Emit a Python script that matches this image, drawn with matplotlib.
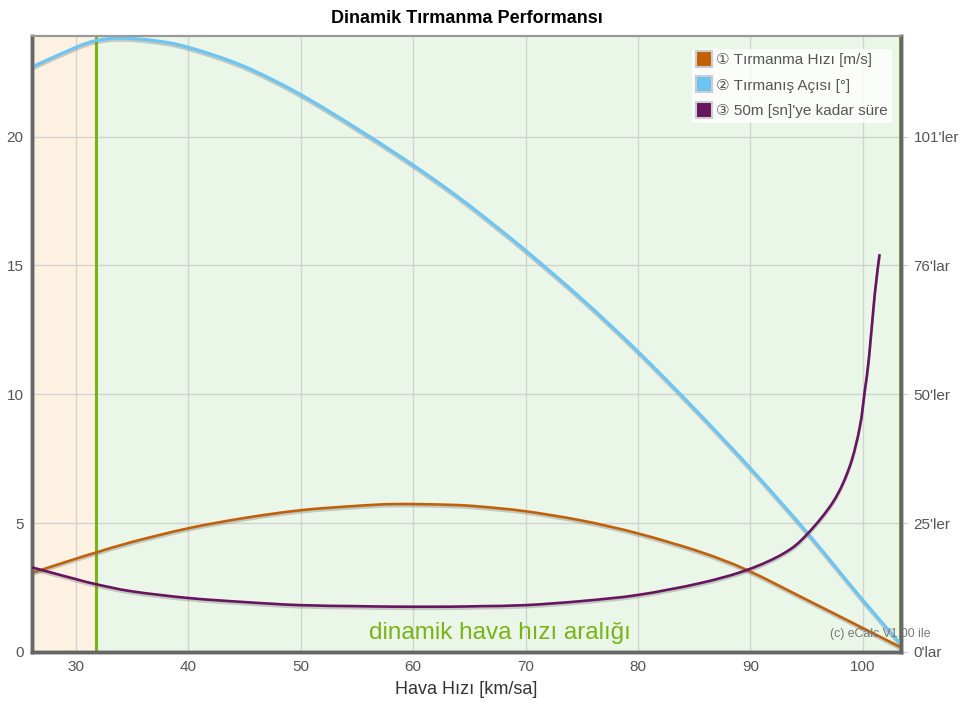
import matplotlib.pyplot as plt
import matplotlib.patheffects as pe
from matplotlib.lines import Line2D
from matplotlib.path import Path
from matplotlib.patches import PathPatch

plt.rcParams['font.family'] = ['Liberation Sans', 'DejaVu Sans']

# airspeed [km/h] samples
speed = [26.1, 30, 31.8, 35, 40, 45, 50, 55, 58.5, 63.3, 66, 70, 75, 80, 85.5, 89.7, 95, 100, 103.3]
climb_rate = [3.07, 3.62, 3.86, 4.27, 4.80, 5.20, 5.50, 5.67, 5.74, 5.71, 5.64, 5.46, 5.10, 4.60,
              3.89, 3.18, 2.03, 0.93, 0.20]

angle_speed = [26.1, 30, 31.8, 33.9, 37, 40, 44.8, 49.9, 55.5, 59.9, 63.3, 65.9, 70, 75, 79.9,
               85, 90, 95, 100, 103.3]
climb_angle = [22.7, 23.46, 23.72, 23.82, 23.72, 23.46, 22.75, 21.65, 20.17, 18.92, 17.88, 17.02,
               15.58, 13.7, 11.7, 9.45, 7.13, 4.66, 2.02, 0.35]

time_speed = [26.1, 30, 31.8, 35, 40, 45, 49.9, 55, 58.5, 63.3, 66, 70, 75, 80, 85.5, 89.7, 93,
              95, 97.4, 98.85, 99.74, 100.2, 100.56, 101.07, 101.5]
time_50m = [16.6, 14.3, 13.3, 11.9, 10.6, 9.8, 9.2, 9.0, 8.9, 8.9, 9.0, 9.2, 10.0, 11.2, 13.5,
            16.1, 19.4, 23.0, 29.6, 36.5, 44.2, 51.6, 57.9, 70.3, 78.1]

vmin_dyn = 31.8
xlim = (26.09, 103.4)
ylim_left = (0, 23.9)
right_scale = 101.2 / 20  # seconds per left-axis unit
right_ticks = [0, 25.3, 50.6, 75.9, 101.2]
right_labels = ["0'lar", "25'ler", "50'ler", "76'lar", "101'ler"]


def smooth_path(ax, xs, ys):
    # catmull-rom through the read points, drawn as cubic bezier in display space
    pts = ax.transData.transform(list(zip(xs, ys)))
    verts = [pts[0]]
    codes = [Path.MOVETO]
    n = len(pts)
    for i in range(n - 1):
        p0 = pts[max(i - 1, 0)]
        p1 = pts[i]
        p2 = pts[i + 1]
        p3 = pts[min(i + 2, n - 1)]
        c1 = p1 + (p2 - p0) / 6.0
        c2 = p2 - (p3 - p1) / 6.0
        verts += [c1, c2, p2]
        codes += [Path.CURVE4] * 3
    return Path(verts, codes)


def draw_curve(ax, xs, ys, color, lw):
    path = smooth_path(ax, xs, ys)
    patch = PathPatch(path, facecolor='none', edgecolor=color, lw=lw, transform=None,
                      capstyle='butt', joinstyle='round', zorder=3,
                      path_effects=[pe.SimpleLineShadow(offset=(0, -1.5), shadow_color='#777777', alpha=0.35),
                                    pe.Normal()])
    patch.set_clip_path(ax.patch)
    ax.add_artist(patch)


fig = plt.figure(figsize=(9.64, 7.10), dpi=100)
ax = fig.add_axes([0.0332, 0.0817, 0.9014, 0.8676])
ax2 = ax.twinx()

ax.set_xlim(*xlim)
ax.set_ylim(*ylim_left)
ax2.set_ylim(ylim_left[0] * right_scale, ylim_left[1] * right_scale)

ax.axvspan(xlim[0], vmin_dyn, color='#fdf1e2', zorder=0)
ax.axvspan(vmin_dyn, xlim[1], color='#eaf7e8', zorder=0)
ax.axvline(vmin_dyn, color='#7ab317', lw=2.2, zorder=1)
ax.axvline(xlim[1] - 0.12, color='#7ab317', lw=2.0, zorder=1)

draw_curve(ax, speed, climb_rate, '#c0610a', 1.9)
draw_curve(ax, angle_speed, climb_angle, '#6cc5f2', 2.3)
draw_curve(ax2, time_speed, time_50m, '#66155e', 1.9)

ax.set_xticks([30, 40, 50, 60, 70, 80, 90, 100])
ax.set_yticks([0, 5, 10, 15, 20])
ax2.set_yticks(right_ticks)
ax2.set_yticklabels(right_labels)

ax.grid(True, color='#cccccc', lw=1, alpha=0.8)
ax.set_axisbelow(True)
for a in (ax, ax2):
    a.tick_params(colors='#555555', labelsize=11, length=0, pad=6)
    for s in a.spines.values():
        s.set_color('#666666')
        s.set_linewidth(2.5)
    a.spines['top'].set_color('#999999')
    a.spines['top'].set_linewidth(1.5)
ax2.tick_params(axis='y', length=5, color='#cccccc', pad=4)

ax.set_xlabel('Hava Hızı [km/sa]', fontsize=13, color='#333333', labelpad=5)
ax.set_title('Dinamik Tırmanma Performansı', fontsize=13, fontweight='bold', pad=9)

ax.text(67.7, 0.3, 'dinamik hava hızı aralığı', color='#7ab317', fontsize=17.5,
        ha='center', va='bottom', zorder=4)
ax.text(97.1, 0.45, '(c) eCalc V1.00 ile', color='#777777', fontsize=8.8,
        ha='left', va='bottom', zorder=4, clip_on=False)

handles = [
    Line2D([], [], marker='s', ls='none', markersize=11, markerfacecolor=c,
           markeredgecolor='#cccccc', markeredgewidth=1.5)
    for c in ('#c0610a', '#6cc5f2', '#66155e')
]
labels = ['① Tırmanma Hızı [m/s]', '② Tırmanış Açısı [°]', '③ 50m [sn]\'ye kadar süre']
leg = ax2.legend(handles, labels, loc='upper right', fontsize=11, frameon=True,
                 handletextpad=0.3, borderpad=0.3, labelspacing=0.75,
                 handlelength=1.0, bbox_to_anchor=(0.999, 0.992))
leg.get_frame().set_facecolor('white')
leg.get_frame().set_alpha(0.8)
leg.get_frame().set_edgecolor('none')
for t in leg.get_texts():
    t.set_color('#555555')

fig.savefig('out.png', dpi=100)
